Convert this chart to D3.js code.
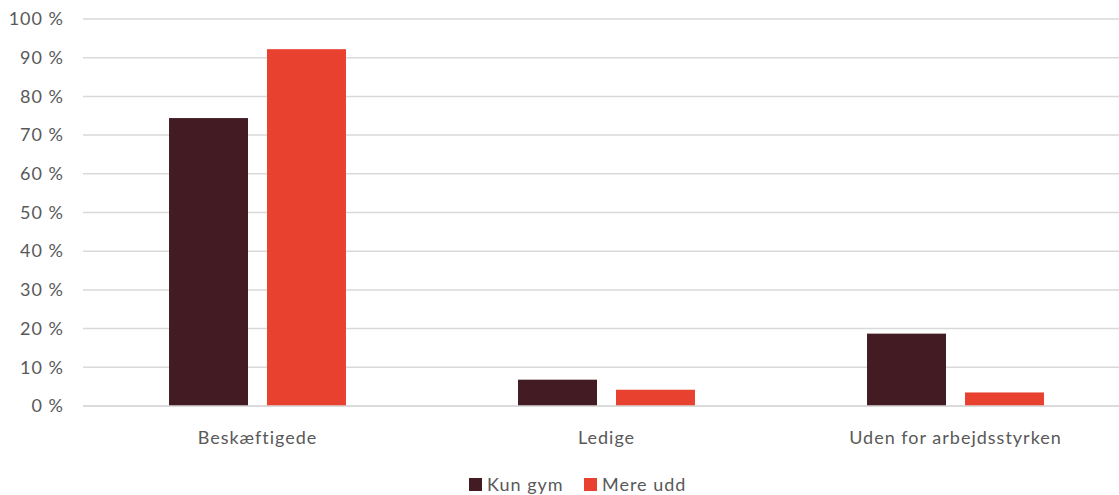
<!DOCTYPE html>
<html>
<head>
<meta charset="utf-8">
<script src="https://cdn.jsdelivr.net/npm/d3@7"></script>
<style>
  html, body { margin: 0; padding: 0; background: #fff; }
  svg { display: block; font-family: Lato, "Open Sans", sans-serif; }
</style>
</head>
<body>
<svg id="chart" width="1119" height="495"></svg>
<script>
const categories = ["Beskæftigede", "Ledige", "Uden for arbejdsstyrken"];
const seriesNames = ["Kun gym", "Mere udd"];
const kunGym = [74.4, 6.8, 18.7];
const mereUdd = [92.2, 4.2, 3.5];
const seriesColors = ["#431b23", "#e94130"];
const yTicks = [0, 10, 20, 30, 40, 50, 60, 70, 80, 90, 100];

const seriesValues = [kunGym, mereUdd];
const svg = d3.select("#chart");

const plotLeft = 83, plotRight = 1130, plotTop = 19, plotBottom = 406;
const textStyle = sel => sel.attr("fill", "#595959").style("font-size", "18px")
  .style("letter-spacing", "1px").style("font-family", "Lato, 'Open Sans', sans-serif");

const x0 = d3.scaleBand().domain(categories).range([plotLeft, plotRight]).paddingInner(0).paddingOuter(0);
const x1 = d3.scaleBand().domain(seriesNames).range([0, x0.bandwidth()]).paddingInner(0.194).paddingOuter(0.878);
const y = d3.scaleLinear().domain([0, 100]).range([plotBottom, plotTop]);

// gridlines
svg.append("g")
  .selectAll("line")
  .data(yTicks)
  .join("line")
  .attr("x1", plotLeft)
  .attr("x2", plotRight)
  .attr("y1", d => y(d))
  .attr("y2", d => y(d))
  .attr("stroke", "#d9d9d9")
  .attr("stroke-width", 1.5);

// y axis labels
const yAxis = d3.axisLeft(y).tickValues(yTicks).tickSize(0).tickPadding(0).tickFormat(d => d + " %");
const gy = svg.append("g").attr("transform", `translate(${plotLeft - 19},0)`).call(yAxis);
gy.select(".domain").remove();
gy.selectAll("text").call(textStyle);

// bars
const rows = categories.map((c, i) => ({ cat: c, vals: seriesNames.map((s, j) => ({ s, j, v: seriesValues[j][i] })) }));
const gBars = svg.append("g");
rows.forEach(r => {
  gBars.selectAll(null)
    .data(r.vals)
    .join("rect")
    .attr("x", d => x0(r.cat) + x1(d.s))
    .attr("width", x1.bandwidth())
    .attr("y", d => y(d.v))
    .attr("height", d => y(0) - y(d.v))
    .attr("fill", d => seriesColors[d.j]);
});

// baseline
svg.append("line")
  .attr("x1", plotLeft).attr("x2", plotRight)
  .attr("y1", y(0)).attr("y2", y(0))
  .attr("stroke", "#d9d9d9").attr("stroke-width", 1.5);

// x axis labels
const xAxis = d3.axisBottom(x0).tickSize(0).tickPadding(0);
const gx = svg.append("g").attr("transform", `translate(0,${y(0) + 25})`).call(xAxis);
gx.select(".domain").remove();
gx.selectAll("text").call(textStyle);

// legend
const legendX = [469, 584];
const leg = svg.append("g");
seriesNames.forEach((s, i) => {
  leg.append("rect").attr("x", legendX[i]).attr("y", 478).attr("width", 13).attr("height", 13).attr("fill", seriesColors[i]);
  leg.append("text").attr("x", legendX[i] + 18).attr("y", 485).attr("dy", "0.35em")
    .call(textStyle).text(s);
});
</script>
</body>
</html>
